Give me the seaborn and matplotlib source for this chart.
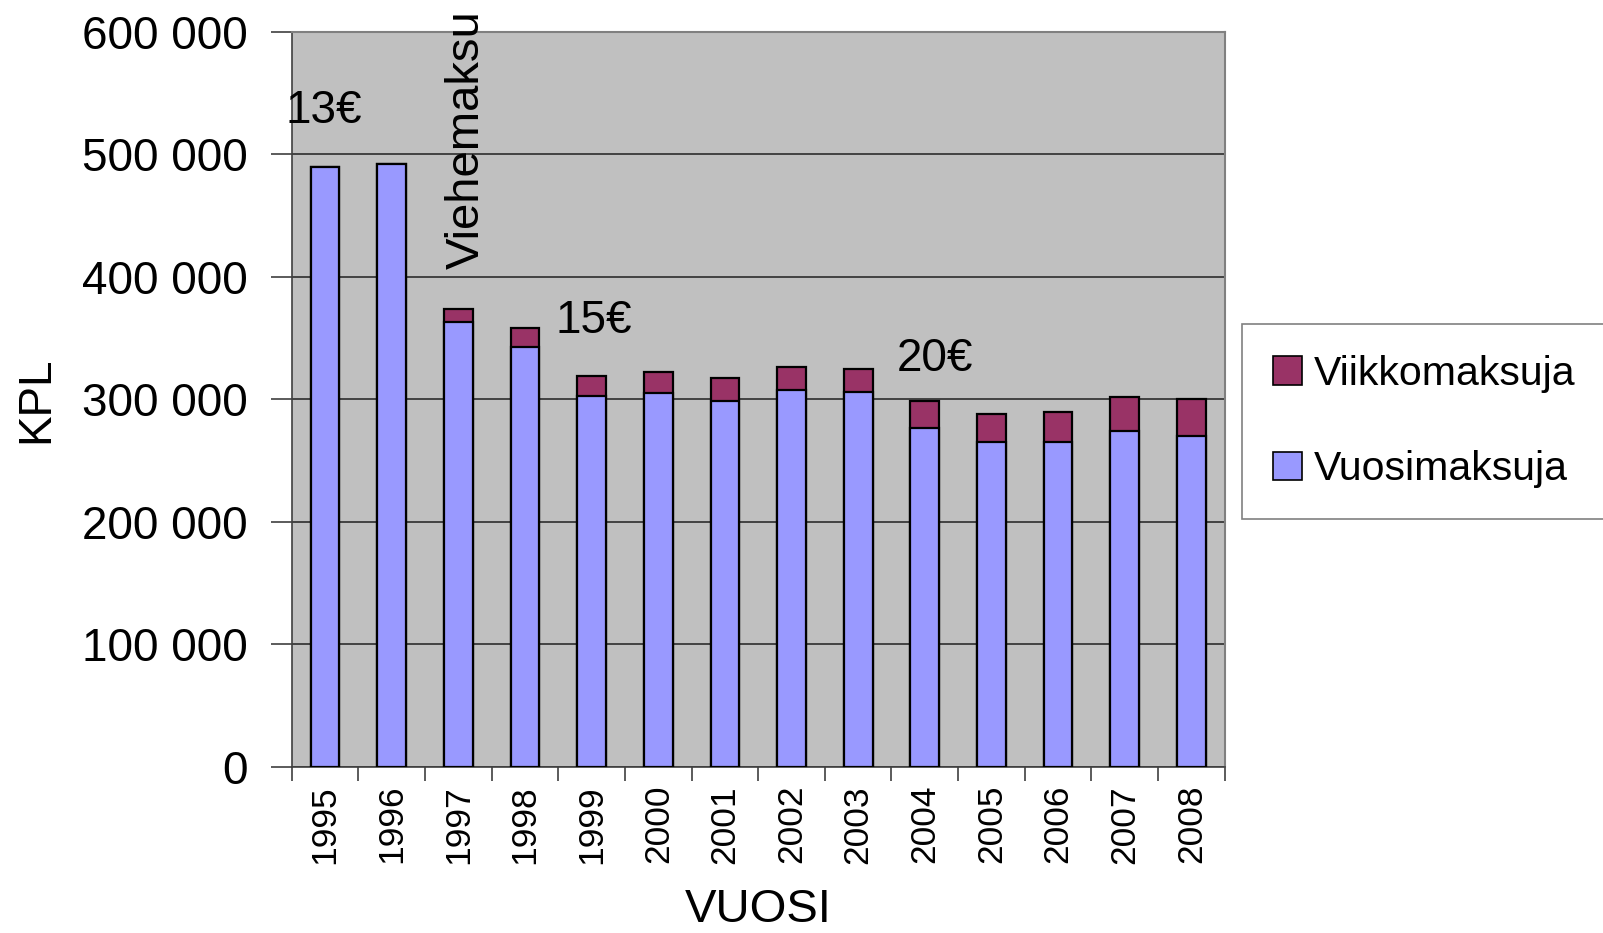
#%% IMPORTS
import pandas as pd
import matplotlib.pyplot as plt
import matplotlib.ticker as mticker
from matplotlib.patches import Patch
import seaborn as sns

#%% DATA
years = ['1995', '1996', '1997', '1998', '1999', '2000', '2001',
         '2002', '2003', '2004', '2005', '2006', '2007', '2008']
vuosimaksuja = [490000, 492000, 363000, 343000, 303000, 305000, 298500,
                308000, 306000, 277000, 265500, 265500, 274500, 270000]
viikkomaksuja = [0, 0, 11000, 15000, 16000, 17000, 18500,
                 18000, 19000, 22000, 22500, 24500, 27000, 30000]

notes = ['13€', '15€', '20€']
note_x = [-0.59, 3.46, 8.58]
note_y = [535000, 364000, 333000]

df = pd.DataFrame({'vuosi': years,
                   'Vuosimaksuja': vuosimaksuja,
                   'Viikkomaksuja': viikkomaksuja})
df['yht'] = df['Vuosimaksuja'] + df['Viikkomaksuja']

#%% PLOT
sns.set_style('white')
plt.rcParams['font.family'] = ['Liberation Sans', 'DejaVu Sans']
plt.rcParams['text.color'] = 'black'
plt.rcParams['axes.labelcolor'] = 'black'
plt.rcParams['xtick.color'] = 'black'
plt.rcParams['ytick.color'] = 'black'

fig = plt.figure(figsize=(16.03, 9.33), dpi=100)
ax = fig.add_axes([0.182, 0.178, 0.582, 0.788])
ax.set_facecolor('#C0C0C0')

bar_kw = dict(width=0.43, edgecolor='black', linewidth=1.6, saturation=1,
              errorbar=None, ax=ax, zorder=3)
sns.barplot(data=df, x='vuosi', y='yht', color='#993366', **bar_kw)
sns.barplot(data=df, x='vuosi', y='Vuosimaksuja', color='#9999FF', **bar_kw)

ax.set_xlim(-0.5, 13.5)
ax.set_ylim(0, 600000)
ax.yaxis.set_major_locator(mticker.MultipleLocator(100000))
ax.yaxis.set_major_formatter(
    mticker.FuncFormatter(lambda v, p: f"{int(v):,}".replace(',', ' ')))
ax.yaxis.grid(True, color='#202020', linewidth=1.1)
ax.set_axisbelow(True)

# ticks between categories, labels at centers
ax.set_xticks(range(len(years)))
ax.set_xticklabels(years, rotation=90, fontsize=25.5)
ax.set_xticks([i - 0.5 for i in range(len(years) + 1)], minor=True)
ax.tick_params(axis='x', which='major', length=0, pad=13)
ax.tick_params(axis='x', which='minor', length=10, width=1.2,
               color='#404040', direction='out', bottom=True)
ax.tick_params(axis='y', length=15, width=1.2, color='#404040',
               direction='out', left=True, pad=17, labelsize=33)

for side in ['top', 'right']:
    ax.spines[side].set_color('#808080')
    ax.spines[side].set_linewidth(1.5)
for side in ['left', 'bottom']:
    ax.spines[side].set_color('#404040')
    ax.spines[side].set_linewidth(1.2)

ax.set_xlabel('VUOSI', fontsize=34, va='center')
ax.xaxis.set_label_coords(0.5, -0.195)
ax.set_ylabel('KPL', fontsize=33, va='center')
ax.yaxis.set_label_coords(-0.274, 0.5)

for t, x, y in zip(notes, note_x, note_y):
    ax.text(x, y, t, fontsize=33, ha='left', va='center', zorder=5)
ax.text(2.13, 406000, 'Viehemaksu', fontsize=34, rotation=90,
        ha='center', va='bottom', clip_on=False, zorder=5)

handles = [Patch(facecolor='#993366', edgecolor='black', linewidth=1.2),
           Patch(facecolor='#9999FF', edgecolor='black', linewidth=1.2)]
leg = fig.legend(handles, ['Viikkomaksuja', 'Vuosimaksuja'],
                 loc='center left', bbox_to_anchor=(0.775, 0.548),
                 fontsize=29.5, frameon=True, fancybox=False,
                 edgecolor='#808080', facecolor='white', framealpha=1,
                 borderpad=0.75, labelspacing=1.4, handlelength=0.7,
                 handleheight=0.7, handletextpad=0.3, borderaxespad=0)
leg.get_frame().set_linewidth(1.2)

plt.savefig('out.png', dpi=100)
